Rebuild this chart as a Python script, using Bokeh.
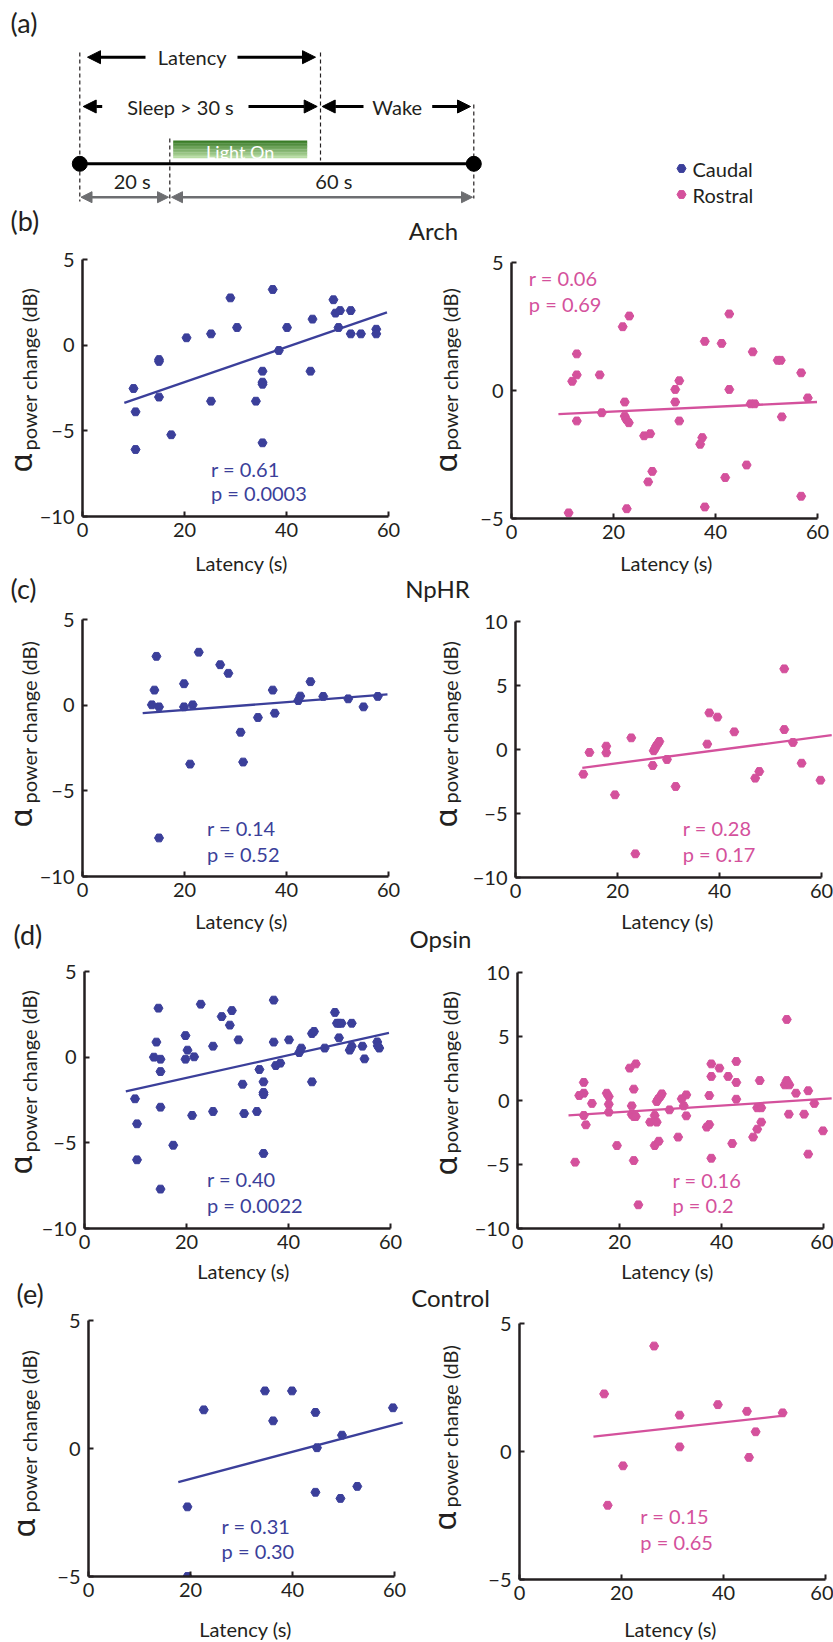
import math
from bokeh.plotting import figure
from bokeh.models import Range1d, FixedTicker, Arrow, NormalHead, GridBox, Column
from bokeh.core.properties import value
from bokeh.embed import file_html
from bokeh.resources import INLINE

W, H = 833, 1642
FONT = "Lato"
BLUE = "#3b3f9a"
PINK = "#d4519c"
INK = "#231f20"
GRAY = "#6d6e71"

# ---------------- data ----------------
x_ticks = [0, 20, 40, 60]
y_ticks_15 = [-10, -5, 0, 5]
y_ticks_10 = [-5, 0, 5]
y_ticks_20 = [-10, -5, 0, 5, 10]

# (b) Arch
arch_caudal_x = [10.0, 10.4, 10.4, 15.0, 15.0, 15.0, 17.4, 20.4, 25.2, 25.2, 29.0, 30.3, 34.0, 35.3, 35.3, 35.3,
                 35.3, 37.3, 38.5, 40.1, 44.7, 45.1, 49.2, 49.6, 50.5, 50.2, 52.6, 52.6, 54.6, 57.6, 57.6]
arch_caudal_y = [-2.53, -3.89, -6.09, -0.84, -0.95, -3.03, -5.23, 0.43, 0.66, -3.27, 2.76, 1.03, -3.27, -1.52,
                 -2.16, -2.28, -5.70, 3.25, -0.31, 1.03, -1.52, 1.52, 2.65, 1.87, 2.02, 1.03, 2.02, 0.66, 0.66,
                 0.93, 0.66]
arch_caudal_fit_x = [8.2, 59.7]
arch_caudal_fit_y = [-3.37, 1.91]
arch_caudal_stats = ["r = 0.61", "p = 0.0003"]

arch_rostral_x = [11.2, 11.9, 12.8, 12.8, 12.8, 17.3, 17.7, 21.8, 22.2, 22.2, 22.5, 23.0, 22.6, 23.1, 26.0, 27.2,
                  26.8, 27.6, 32.1, 32.1, 32.9, 32.9, 37.0, 37.4, 37.9, 37.9, 41.2, 41.9, 42.7, 42.7, 46.1, 46.9,
                  47.7, 47.3, 52.2, 52.8, 53.0, 56.8, 56.8, 58.1]
arch_rostral_y = [-4.78, 0.36, 1.43, 0.61, -1.19, 0.61, -0.87, 2.49, -0.45, -1.00, -1.13, -1.26, -4.62, 2.91,
                  -1.77, -1.69, -3.57, -3.16, 0.04, -0.45, 0.38, -1.19, -2.10, -1.84, 1.92, -4.55, 1.84, -3.40,
                  2.99, 0.04, -2.91, -0.52, -0.52, 1.51, 1.18, 1.18, -1.03, 0.69, -4.13, -0.29]
arch_rostral_fit_x = [9.2, 59.9]
arch_rostral_fit_y = [-0.92, -0.45]
arch_rostral_stats = ["r = 0.06", "p = 0.69"]

# (c) NpHR
nphr_caudal_x = [13.6, 14.1, 14.5, 15.0, 15.0, 19.9, 19.9, 21.1, 21.6, 22.8, 27.0, 28.6, 31.0, 31.5, 34.4, 37.3,
                 37.7, 42.3, 42.7, 44.7, 47.2, 52.1, 55.1, 57.9]
nphr_caudal_y = [0.02, 0.88, 2.85, -0.10, -7.75, 1.25, -0.10, -3.44, 0.02, 3.09, 2.36, 1.86, -1.58, -3.32, -0.72,
                 0.88, -0.47, 0.27, 0.53, 1.37, 0.51, 0.37, -0.10, 0.51]
nphr_caudal_fit_x = [11.8, 59.8]
nphr_caudal_fit_y = [-0.47, 0.63]
nphr_caudal_stats = ["r = 0.14", "p = 0.52"]

nphr_rostral_x = [13.3, 14.5, 17.8, 17.8, 19.5, 22.7, 23.5, 26.9, 27.1, 27.4, 27.6, 28.0, 28.2, 29.7, 31.4, 37.6,
                  38.0, 39.6, 42.9, 47.0, 47.8, 52.7, 52.7, 54.4, 56.1, 59.8]
nphr_rostral_y = [-1.93, -0.23, 0.26, -0.26, -3.54, 0.91, -8.15, -1.25, -0.10, 0.10, 0.29, 0.49, 0.63, -0.78,
                  -2.89, 0.42, 2.86, 2.53, 1.38, -2.24, -1.72, 6.30, 1.56, 0.55, -1.07, -2.40]
nphr_rostral_fit_x = [13.1, 62.0]
nphr_rostral_fit_y = [-1.43, 1.12]
nphr_rostral_stats = ["r = 0.28", "p = 0.17"]

# (d) Opsin
opsin_caudal_x = [9.9, 10.3, 10.3, 13.6, 14.1, 14.5, 14.9, 14.9, 14.9, 14.9, 17.4, 19.8, 19.8, 20.2, 21.1, 21.5,
                  22.8, 25.2, 25.2, 26.9, 28.5, 28.9, 30.2, 31.0, 31.3, 33.8, 34.3, 35.1, 35.1, 35.1, 35.1, 37.1,
                  37.1, 37.5, 38.4, 40.1, 42.1, 42.5, 44.6, 44.6, 45.0, 47.1, 49.1, 49.5, 49.9, 50.4, 49.9, 52.0,
                  52.4, 52.4, 54.5, 54.9, 57.4, 57.8, 57.5]
opsin_caudal_y = [-2.43, -3.89, -5.99, 0.00, 0.88, 2.86, -0.12, -0.84, -2.92, -7.70, -5.14, 1.26, -0.12, 0.41,
                  -3.40, 0.02, 3.09, 0.64, -3.17, 2.37, 1.87, 2.72, 1.01, -1.58, -3.29, -3.17, -0.72, -1.44, -2.06,
                  -2.18, -5.62, 3.33, 0.88, -0.49, -0.35, 1.01, 0.27, 0.53, -1.44, 1.38, 1.50, 0.53, 2.61, 1.98,
                  1.98, 1.98, 1.13, 0.41, 0.64, 1.98, 0.64, -0.10, 0.89, 0.53, 0.66]
opsin_caudal_fit_x = [8.1, 59.7]
opsin_caudal_fit_y = [-2.0, 1.42]
opsin_caudal_stats = ["r = 0.40", "p = 0.0022"]

opsin_rostral_x = [11.3, 12.1, 13.0, 13.0, 13.0, 13.4, 14.6, 17.5, 17.9, 17.9, 17.9, 19.5, 22.0, 22.4, 22.4, 22.8,
                   23.2, 22.8, 22.8, 23.2, 23.7, 26.0, 26.9, 27.3, 26.9, 27.7, 27.3, 27.6, 28.0, 28.3, 29.8, 31.5,
                   32.2, 32.6, 33.1, 33.1, 37.1, 37.6, 37.6, 38.0, 38.0, 38.0, 39.6, 41.3, 42.1, 42.9, 42.9, 42.9,
                   46.2, 47.0, 47.8, 47.0, 47.8, 47.5, 52.4, 52.8, 53.3, 52.8, 53.2, 54.6, 56.2, 57.0, 57.0, 58.2,
                   59.9]
opsin_rostral_y = [-4.82, 0.39, 1.41, 0.57, -1.17, -1.90, -0.23, 0.57, 0.31, -0.29, -0.91, -3.52, 2.53, -0.42,
                   -1.09, -1.25, -1.25, 0.89, -4.69, 2.86, -8.15, -1.69, -1.17, -1.69, -3.52, -3.18, -0.08, 0.13,
                   0.31, 0.52, -0.73, -2.86, 0.13, -0.42, 0.44, -1.20, -2.08, -1.88, 0.39, 2.86, 1.88, -4.51, 2.53,
                   1.88, -3.36, 3.05, 1.41, 0.10, -2.86, -0.57, -0.57, -2.24, -1.69, 1.56, 1.22, 1.56, 1.22, 6.33,
                   -1.07, 0.57, -1.07, 0.76, -4.19, -0.23, -2.37]
opsin_rostral_fit_x = [10.0, 61.6]
opsin_rostral_fit_y = [-1.17, 0.16]
opsin_rostral_stats = ["r = 0.16", "p = 0.2"]

# (e) Control
control_caudal_x = [19.4, 19.4, 22.6, 34.6, 36.2, 39.9, 44.5, 44.5, 44.8, 49.4, 49.7, 52.7, 59.7]
control_caudal_y = [-2.28, -5.0, 1.51, 2.25, 1.08, 2.25, 1.41, -1.71, 0.03, -1.95, 0.52, -1.48, 1.59]
control_caudal_fit_x = [17.6, 61.6]
control_caudal_fit_y = [-1.31, 1.01]
control_caudal_stats = ["r = 0.31", "p = 0.30"]

control_rostral_x = [16.6, 17.3, 20.3, 26.4, 31.4, 31.4, 38.9, 44.6, 45.0, 46.3, 51.6]
control_rostral_y = [2.25, -2.10, -0.56, 4.12, 1.42, 0.18, 1.83, 1.57, -0.23, 0.77, 1.51]
control_rostral_fit_x = [14.5, 51.8]
control_rostral_fit_y = [0.58, 1.40]
control_rostral_stats = ["r = 0.15", "p = 0.65"]

row_letters = ["(a)", "(b)", "(c)", "(d)", "(e)"]
row_titles = ["Arch", "NpHR", "Opsin", "Control"]
legend_labels = ["Caudal", "Rostral"]
x_label = "Latency (s)"
y_label = "power change (dB)"

# ---------------- layout helpers ----------------
XPX = 5.1  # pixels per second on every panel


def base_fig(**kw):
    return figure(width=W, height=H, output_backend="svg", toolbar_location=None,
                  background_fill_color=None, border_fill_color=None, sizing_mode="fixed",
                  outline_line_color=None, title=None, **kw)


def make_panel(fl, ft, fw, fh, ymin, ymax, yticks, xs, ys, fx, fy, color, stats, sx, sy):
    xmax = fw / XPX
    p = base_fig(x_range=Range1d(0, xmax), y_range=Range1d(ymin, ymax),
                 min_border_left=fl, min_border_top=ft,
                 min_border_right=W - fl - fw, min_border_bottom=H - ft - fh)
    p.grid.visible = False
    for ax in (p.xaxis[0], p.yaxis[0]):
        ax.axis_line_color = INK
        ax.axis_line_width = 2.5
        ax.major_tick_in = 5
        ax.major_tick_out = 0
        ax.minor_tick_in = 0
        ax.minor_tick_out = 0
        ax.major_tick_line_color = INK
        ax.major_tick_line_width = 2
        ax.major_label_text_font = FONT
        ax.major_label_text_font_size = "20px"
        ax.major_label_text_color = INK
    p.xaxis.ticker = FixedTicker(ticks=x_ticks)
    p.xaxis.bounds = (0, 60)
    p.yaxis.ticker = FixedTicker(ticks=yticks)
    p.xaxis.major_label_standoff = 6
    p.yaxis.major_label_standoff = 8
    p.line(fx, fy, line_color=color, line_width=2.3)
    p.scatter(xs, ys, marker="hex", size=9, fill_color=color, line_color=color)
    p.text(x=[sx, sx], y=sy, text=stats, text_font=value(FONT), text_font_size="20px",
           text_color=color, text_align="left", text_baseline="middle")
    return p


panels = [
    make_panel(82, 259, 306, 257, -10, 5, y_ticks_15, arch_caudal_x, arch_caudal_y,
               arch_caudal_fit_x, arch_caudal_fit_y, BLUE, arch_caudal_stats, 25.2, [-7.2, -8.65]),
    make_panel(511, 262, 306, 256, -5, 5, y_ticks_10, arch_rostral_x, arch_rostral_y,
               arch_rostral_fit_x, arch_rostral_fit_y, PINK, arch_rostral_stats, 3.4, [4.4, 3.39]),
    make_panel(82, 619, 306, 257, -10, 5, y_ticks_15, nphr_caudal_x, nphr_caudal_y,
               nphr_caudal_fit_x, nphr_caudal_fit_y, BLUE, nphr_caudal_stats, 24.4, [-7.16, -8.68]),
    make_panel(515, 621, 317, 256, -10, 10, y_ticks_20, nphr_rostral_x, nphr_rostral_y,
               nphr_rostral_fit_x, nphr_rostral_fit_y, PINK, nphr_rostral_stats, 32.8, [-6.1, -8.14]),
    make_panel(84, 971, 306, 257, -10, 5, y_ticks_15, opsin_caudal_x, opsin_caudal_y,
               opsin_caudal_fit_x, opsin_caudal_fit_y, BLUE, opsin_caudal_stats, 24.0, [-7.1, -8.62]),
    make_panel(517, 972, 315, 256, -10, 10, y_ticks_20, opsin_rostral_x, opsin_rostral_y,
               opsin_rostral_fit_x, opsin_rostral_fit_y, PINK, opsin_rostral_stats, 30.4, [-6.2, -8.16]),
    make_panel(88, 1320, 315, 256, -5, 5, y_ticks_10, control_caudal_x, control_caudal_y,
               control_caudal_fit_x, control_caudal_fit_y, BLUE, control_caudal_stats, 26.1, [-3.03, -4.01]),
    make_panel(519, 1323, 306, 256, -5, 5, y_ticks_10, control_rostral_x, control_rostral_y,
               control_rostral_fit_x, control_rostral_fit_y, PINK, control_rostral_stats, 23.7, [-2.52, -3.54]),
]

# ---------------- overlay: schematic (a), labels, titles, legend ----------------
ov = base_fig(x_range=Range1d(0, W), y_range=Range1d(H, 0), x_axis_type=None, y_axis_type=None,
              min_border=0)
ov.grid.visible = False

ov.text(x=[10, 10, 10, 13, 16], y=[22, 220, 588, 934, 1293], text=row_letters,
        text_font=value(FONT), text_font_size="27px", text_color=INK,
        text_align="left", text_baseline="middle")
ov.text(x=[433, 437, 440, 450], y=[230, 588, 938, 1297], text=row_titles,
        text_font=value(FONT), text_font_size="24px", text_color=INK,
        text_align="center", text_baseline="middle")

# x-axis titles under each panel
xlab_x = [241, 666, 241, 667, 243, 667, 245, 670]
xlab_y = [562, 562, 920, 920, 1270, 1270, 1628, 1628]
ov.text(x=xlab_x, y=xlab_y, text=[x_label] * 8, text_font=value(FONT), text_font_size="20px",
        text_color=INK, text_align="center", text_baseline="middle")

# rotated y-axis titles: "α" + "power change (dB)"
ylab_x = [28, 449, 28, 449, 28, 449, 28, 449]
ylab_y = [450, 450, 803, 803, 1152, 1153, 1512, 1507]
alpha_x = [19, 444, 19, 444, 19, 444, 22, 443]
alpha_y = [472, 472, 827, 827, 1174, 1175, 1537, 1530]
ov.text(x=ylab_x, y=ylab_y, text=[y_label] * 8, angle=math.pi / 2,
        text_font=value(FONT), text_font_size="20px", text_color=INK,
        text_align="left", text_baseline="middle")
ov.text(x=alpha_x, y=alpha_y, text=["α"] * 8, angle=math.pi / 2,
        text_font=value("Noto Sans"), text_font_size="31px", text_color=INK,
        text_align="left", text_baseline="middle")

ov.scatter(x=[681, 681], y=[168, 194], marker="hex", size=9, fill_color=[BLUE, PINK], line_color=[BLUE, PINK])
ov.text(x=[692, 692], y=[168, 194], text=legend_labels, text_font=value(FONT), text_font_size="20px",
        text_color=INK, text_align="left", text_baseline="middle")

# schematic timeline (positions of the sketch, not data)
t_left, t_light, t_wake, t_right = 79.3, 169.3, 320.0, 473.3
y_lat, y_sleep, y_line, y_span = 56.7, 106.0, 163.3, 196.7

ov.multi_line(xs=[[t_left, t_left], [t_wake, t_wake], [t_light, t_light], [t_right, t_right]],
              ys=[[52, 201], [52, 160], [138, 203], [104, 198]],
              line_color=INK, line_width=1.2, line_dash="4 3")

bar_l, bar_r, bar_t, bar_b = 172.7, 306.7, 140.0, 157.5
n = 12
c0, c1 = (58, 124, 40), (184, 220, 164)
for i in range(n):
    f = i / (n - 1)
    col = "#%02x%02x%02x" % tuple(int(round(a + (b - a) * f)) for a, b in zip(c0, c1))
    ov.quad(left=bar_l, right=bar_r, top=bar_t + (bar_b - bar_t) * i / n,
            bottom=bar_t + (bar_b - bar_t) * (i + 1) / n + 0.3, fill_color=col, line_color=None)
ov.text(x=[(bar_l + bar_r) / 2], y=[151], text=["Light On"], text_font=value(FONT), text_font_size="18px",
        text_color="white", text_align="center", text_baseline="middle")

ov.line(x=[t_left, t_right], y=[y_line, y_line], line_color="black", line_width=3)
ov.scatter(x=[t_left, t_right], y=[y_line, y_line], marker="circle", size=15, fill_color="black",
           line_color="black")

for xs_, xe_, yy in [(145, 87, y_lat), (237, 315, y_lat), (101.7, 82.7, y_sleep), (248, 316.7, y_sleep),
                     (363, 321.7, y_sleep), (431.7, 470, y_sleep)]:
    ov.add_layout(Arrow(x_start=xs_, y_start=yy, x_end=xe_, y_end=yy, line_color="black", line_width=3,
                        end=NormalHead(size=13, fill_color="black", line_color="black")))
for xs_, xe_ in [(80.5, 168), (171, 472)]:
    ov.add_layout(Arrow(x_start=xs_, y_start=y_span, x_end=xe_, y_end=y_span, line_color=GRAY, line_width=2.5,
                        start=NormalHead(size=11, fill_color=GRAY, line_color=GRAY),
                        end=NormalHead(size=11, fill_color=GRAY, line_color=GRAY)))

ov.text(x=[191.7, 180.0, 396.7, 131.7, 333.3], y=[56, 106, 106, 180, 180],
        text=["Latency", "Sleep > 30 s", "Wake", "20 s", "60 s"],
        text_font=value(FONT), text_font_size="20px", text_color=INK,
        text_align="center", text_baseline="middle")

figs = [ov] + panels
layout = GridBox(children=[(Column(children=[f], width=W, height=H, sizing_mode="fixed"), 0, 0) for f in figs],
                 width=W, height=H, sizing_mode="fixed")
open("out.html", "w").write(file_html(layout, INLINE))
